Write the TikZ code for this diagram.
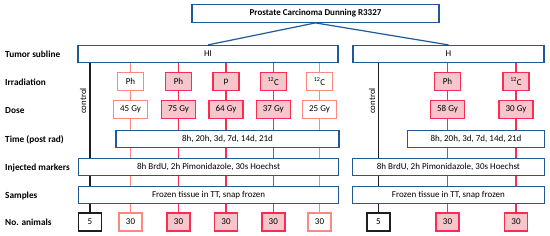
\documentclass[tikz,border=0pt]{standalone}
\usepackage{fontspec}
\setmainfont{Carlito}
\usetikzlibrary{backgrounds}
\definecolor{bblue}{RGB}{31,90,150}
\definecolor{rred}{RGB}{250,45,80}
\definecolor{rfill}{RGB}{246,198,204}
\definecolor{lred}{RGB}{255,135,125}
\definecolor{cblack}{RGB}{30,30,30}
\tikzset{
  bbox/.style={draw=bblue,line width=1.2pt,fill=white,minimum height=17pt,inner sep=0pt,font=\fontsize{9}{10}\selectfont},
  rbox/.style={draw=rred,line width=1.4pt,fill=rfill,minimum height=18pt,inner sep=0pt,font=\fontsize{9}{10}\selectfont},
  lbox/.style={draw=lred,line width=1.1pt,fill=white,minimum height=18pt,inner sep=0pt,font=\fontsize{9}{10}\selectfont},
  kbox/.style={draw=cblack,line width=1.4pt,fill=white,minimum height=18pt,minimum width=23pt,inner sep=0pt,font=\fontsize{9}{10}\selectfont},
  rowlab/.style={anchor=west,inner sep=0pt,font=\fontsize{9.3}{10}\selectfont\bfseries},
  ctl/.style={rotate=90,inner sep=0pt,font=\fontsize{8.8}{9}\selectfont},
  irr/.style={minimum width=26pt},
  dos/.style={minimum width=34pt},
  num/.style={minimum width=23pt},
  bline/.style={draw=bblue,line width=1.2pt},
  rline/.style={draw=rred,line width=1.1pt},
  lline/.style={draw=lred,line width=1.1pt},
  kline/.style={draw=cblack,line width=1.2pt},
}
\begin{document}
\begin{tikzpicture}[x=1pt,y=-1pt]
\useasboundingbox (0,0) rectangle (550,236);
% row labels
\node[rowlab] (l1) at (5,54.3) {Tumor subline};
\node[rowlab] (l2) at (5,82.7) {Irradiation};
\node[rowlab] (l3) at (5,111) {Dose};
\node[rowlab] (l4) at (5,139.3) {Time (post rad)};
\node[rowlab] (l5) at (5,167.7) {Injected markers};
\node[rowlab] (l6) at (5,195.7) {Samples};
\node[rowlab] (l7) at (5,222.7) {No. animals};
% top
\node[bbox,minimum width=247pt,minimum height=18pt,font=\fontsize{9}{10}\selectfont\bfseries] (top) at (315.5,13.3) {Prostate Carcinoma Dunning R3327};
\node[bbox,minimum width=260pt] (HI) at (208,54) {HI};
\node[bbox,minimum width=191pt] (H) at (448.5,54) {H};
% irradiation
\node[lbox,irr] (ia) at (130.5,81.7) {Ph};
\node[rbox,irr] (ib) at (178.5,81.7) {Ph};
\node[rbox,irr] (ic) at (226,81.7) {p};
\node[rbox,irr] (id) at (273.3,81.7) {\textsuperscript{12}C};
\node[lbox,irr] (ie) at (319.5,81.7) {\textsuperscript{12}C};
\node[rbox,irr] (if) at (447.5,81.7) {Ph};
\node[rbox,irr] (ig) at (516,81.7) {\textsuperscript{12}C};
% dose
\node[lbox,dos] (da) at (130.5,109.5) {45 Gy};
\node[rbox,dos] (db) at (178.5,109.5) {75 Gy};
\node[rbox,dos] (dc) at (226,109.5) {64 Gy};
\node[rbox,dos] (dd) at (273.3,109.5) {37 Gy};
\node[lbox,dos] (de) at (319.5,109.5) {25 Gy};
\node[rbox,dos] (df) at (447.5,109.5) {58 Gy};
\node[rbox,dos] (dg) at (516,109.5) {30 Gy};
% control labels
\node[ctl] (ctlL) at (83,101) {control};
\node[ctl] (ctlR) at (372,101) {control};
% time
\node[bbox,minimum width=223pt] (timeL) at (227.5,138.8) {8h, 20h, 3d, 7d, 14d, 21d};
\node[bbox,minimum width=136.5pt] (timeR) at (476,138.8) {8h, 20h, 3d, 7d, 14d, 21d};
% injected
\node[bbox,minimum width=260.5pt] (injL) at (208.6,167.2) {8h BrdU, 2h Pimonidazole, 30s Hoechst};
\node[bbox,minimum width=191.5pt] (injR) at (448.4,167.2) {8h BrdU, 2h Pimonidazole, 30s Hoechst};
% samples
\node[bbox,minimum width=260.5pt] (samL) at (208.6,195) {Frozen tissue in TT, snap frozen};
\node[bbox,minimum width=191.5pt] (samR) at (448.4,195) {Frozen tissue in TT, snap frozen};
% numbers
\node[kbox] (n0) at (90,222) {5};
\node[lbox,num] (na) at (130.5,222) {30};
\node[rbox,num] (nb) at (178.5,222) {30};
\node[rbox,num] (nc) at (226,222) {30};
\node[rbox,num] (nd) at (273.3,222) {30};
\node[lbox,num] (ne) at (319.5,222) {30};
\node[kbox] (n1) at (378.5,222) {5};
\node[rbox,num] (nf) at (447.5,222) {30};
\node[rbox,num] (ng) at (516,222) {30};
% connectors behind
\begin{scope}[on background layer]
\draw[bline] (top.south) -- (HI.north);
\draw[bline] (top.south) -- (H.north);
\draw[kline] (HI.south -| n0.north) -- (n0.north);
\draw[kline] (H.south -| n1.north) -- (n1.north);
\draw[lline] (HI.south -| ia.north) -- (na.north);
\draw[rline] (HI.south -| ib.north) -- (nb.north);
\draw[rline] (HI.south -| ic.north) -- (nc.north);
\draw[rline] (HI.south -| id.north) -- (nd.north);
\draw[lline] (HI.south -| ie.north) -- (ne.north);
\draw[rline] (H.south -| if.north) -- (nf.north);
\draw[rline] (H.south -| ig.north) -- (ng.north);
\end{scope}
\end{tikzpicture}
\end{document}
